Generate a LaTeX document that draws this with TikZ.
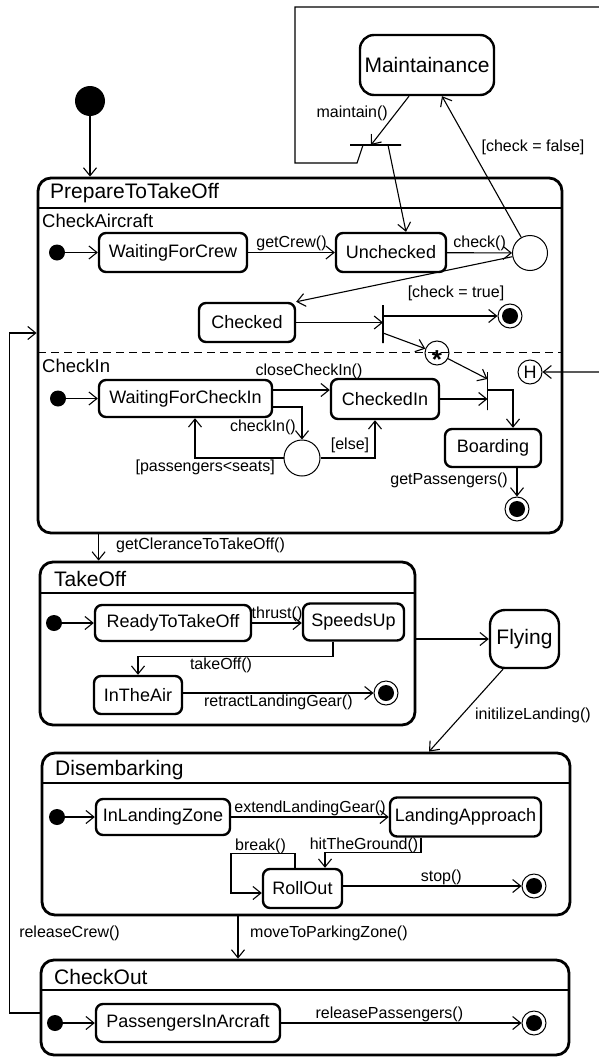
\documentclass[tikz,border=0pt]{standalone}
\usepackage{fontspec}
\setmainfont{Liberation Sans}
\usetikzlibrary{arrows.meta}
\newcommand{\statefont}{\fontsize{18}{21}\selectfont}
\newcommand{\lblfont}{\fontsize{16}{19}\selectfont}
\newcommand{\titlefont}{\fontsize{21}{25}\selectfont}
\newcommand{\regionfont}{\fontsize{18.5}{22}\selectfont}

\begin{document}
\begin{tikzpicture}[x=1pt, y=-1pt,
    stbox/.style={draw, line width=2.4pt, rounded corners=7pt, inner sep=0pt, font=\statefont},
    superbox/.style={draw, line width=2.8pt, rounded corners=13pt, inner sep=0pt},
    startdot/.style={circle, fill, inner sep=0pt, minimum size=16pt},
    enddot/.style={circle, draw, line width=1pt, inner sep=0pt, minimum size=24pt,
        path picture={\fill (path picture bounding box.center) circle (8pt);}},
    choice/.style={circle, draw, line width=1pt, inner sep=0pt, minimum size=35pt},
    syncbar/.style={draw, line width=1.2pt, inner sep=0pt, minimum width=0pt, minimum height=38pt},
    tr/.style={line width=1.1pt, -{Straight Barb[length=8pt, width=13pt]}},
    lbl/.style={font=\lblfont, inner sep=1pt},
    title/.style={anchor=west, font=\titlefont, inner sep=0pt},
    sep/.style={line width=2.4pt}]
\useasboundingbox (0,0) rectangle (599,1057);

\node (init0) [circle, fill, minimum size=30pt, inner sep=0pt] at (90,101) {};
\node (maint) [stbox, rounded corners=14pt, minimum width=134pt, minimum height=60pt, font=\titlefont] at (427,65) {Maintainance};
\node (topbar) [syncbar, minimum width=51pt, minimum height=0pt] at (375.5,145) {};

\node (prep) [superbox, minimum width=524pt, minimum height=355pt] at (300,355.5) {};
\node (preptitle) [title] at (50,193) {PrepareToTakeOff};
\draw[sep] (38,208) -- (562,208);
\draw[line width=1pt, dash pattern=on 8pt off 5pt] (38,352) -- (562,352);
\node (checkac) [title, font=\regionfont] at (42,221) {CheckAircraft};
\node (checkin) [title, font=\regionfont] at (42,366) {CheckIn};

\node (ini1) [startdot] at (57,252.5) {};
\node (waitcrew) [stbox, minimum width=148pt, minimum height=39pt] at (173,252.5) {WaitingForCrew};
\node (unchecked) [stbox, minimum width=110pt, minimum height=39pt] at (391,252.5) {Unchecked};
\node (choice1) [choice] at (530,253) {};
\node (checked) [stbox, minimum width=96pt, minimum height=39pt] at (247,322.5) {Checked};
\node (fork1) [syncbar] at (383,324) {};
\node (final1) [enddot] at (510,316) {};
\node (star) [circle, draw, line width=1pt, inner sep=0pt, minimum size=24pt] at (437,353)
    {\smash{\raisebox{-15pt}{\fontsize{26}{26}\selectfont\bfseries *}}};

\node (ini2) [startdot] at (58,398.5) {};
\node (waitci) [stbox, minimum width=173pt, minimum height=37pt] at (185.5,398.5) {WaitingForCheckIn};
\node (checkedin) [stbox, minimum width=108pt, minimum height=40pt] at (385,399) {CheckedIn};
\node (join1) [syncbar] at (487.5,391) {};
\node (hist) [circle, draw, line width=1pt, inner sep=0pt, minimum size=24pt, font=\statefont] at (530,372) {H};
\node (boarding) [stbox, minimum width=96pt, minimum height=38pt] at (493,448) {Boarding};
\node (final2) [enddot] at (517,509) {};
\node (choice2) [choice, minimum size=36pt] at (302,458) {};

\draw[tr] (init0) -- (init0 |- prep.north);
\draw[tr] ([xshift=-18pt]maint.south) -- ([xshift=-4.5pt]topbar.center);
\node (lblmaint) [lbl, anchor=east] at (389,113) {maintain()};
\draw[tr] ([xshift=12.5pt]topbar.center) -- ([xshift=15pt]unchecked.north);
\draw[tr] ([xshift=-12.5pt]topbar.center) -- ++(-6,18) -- (295,163) |- (606,7) |- (hist);
\draw[tr] (choice1) -- ([xshift=15pt]maint.south);
\node (lblfalse) [lbl] at (533,147) {[check = false]};

\draw[tr] (ini1) -- (waitcrew);
\draw[tr] (waitcrew) -- (unchecked) node[lbl, midway, above] (lblcrew) {getCrew()};
\draw[tr] (unchecked) -- (choice1) node[lbl, midway, above] (lblcheck) {check()};
\draw[tr] (choice1) -- (checked.north east);
\draw[tr] (checked) -- (checked -| fork1);
\draw[tr] (fork1 |- final1) -- (final1);
\node (lbltrue) [lbl] at (456,293) {[check = true]};
\draw[tr] ([yshift=-9pt]fork1.center) -- (star);
\draw[tr] (star) -- ([yshift=12pt]join1.center);

\draw[tr] (ini2) -- (waitci);
\draw[tr] ([yshift=8.5pt]waitci.east) -- ([yshift=8.5pt]waitci.east -| checkedin.west);
\node (lblclose) [lbl] at (309,371) {closeCheckIn()};
\draw[tr] (checkedin) -- (checkedin -| join1);
\draw[tr] ([yshift=1pt]join1.center) -| ([xshift=20pt]boarding.north);
\draw[tr] (final2 |- boarding.south) -- (final2);
\node (lblpass) [lbl, anchor=east] at (509,480) {getPassengers()};
\draw[tr] ([yshift=-8.5pt]waitci.east) -| (choice2);
\node (lblcheckin) [lbl, anchor=east] at (297,427) {checkIn()};
\draw[tr] (choice2) -| ([xshift=9.5pt]waitci.south);
\node (lblseats) [lbl, anchor=east] at (276,467) {[passengers<seats]};
\draw[tr] (choice2) -| ([xshift=-10pt]checkedin.south);
\node (lblelse) [lbl] at (350,445) {[else]};

\node (takeoff) [superbox, minimum width=375pt, minimum height=163pt] at (227.5,643.5) {};
\draw[tr] ([xshift=60pt]takeoff.north west |- prep.south) -- ([xshift=60pt]takeoff.north west);
\node (lblclear) [lbl, anchor=west] at (115,545) {getCleranceToTakeOff()};
\node (taketitle) [title] at (54,579) {TakeOff};
\draw[sep] (40,593) -- (415,593);
\node (ini3) [startdot] at (54,623) {};
\node (ready) [stbox, minimum width=156pt, minimum height=36pt] at (173,623) {ReadyToTakeOff};
\node (speeds) [stbox, minimum width=101pt, minimum height=37pt] at (353.5,622) {SpeedsUp};
\node (inair) [stbox, minimum width=88pt, minimum height=38pt] at (138,695) {InTheAir};
\node (final3) [enddot] at (386,693) {};
\node (flying) [stbox, rounded corners=15pt, minimum width=69pt, minimum height=58pt, font=\titlefont] at (524.5,639) {Flying};

\draw[tr] (ini3) -- (ready);
\draw[tr] (ready) -- (ready -| speeds.west) node[lbl, midway, above] (lblthrust) {thrust()};
\draw[tr] ([xshift=-20.5pt]speeds.south) -- ++(0,15) -| (inair);
\node (lbltake) [lbl] at (221,665) {takeOff()};
\draw[tr] (inair.east |- final3) -- (final3) node[lbl, midway, below] (lblretract) {retractLandingGear()};
\draw[tr] (takeoff.east |- flying) -- (flying);

\node (disemb) [superbox, minimum width=528pt, minimum height=162pt] at (306,834) {};
\draw[tr] ([xshift=-21.5pt]flying.south) -- ([xshift=123pt]disemb.north);
\node (lblland) [lbl] at (533,715) {initilizeLanding()};
\node (distitle) [title] at (55,770) {Disembarking};
\draw[sep] (42,783) -- (570,783);
\node (ini4) [startdot] at (57,817) {};
\node (landzone) [stbox, minimum width=134pt, minimum height=36pt] at (163,817) {InLandingZone};
\node (approach) [stbox, minimum width=151pt, minimum height=39pt] at (465.5,817) {LandingApproach};
\node (rollout) [stbox, minimum width=79pt, minimum height=39pt] at (302.5,888.5) {RollOut};
\node (final4) [enddot] at (534,886) {};

\draw[tr] (ini4) -- (landzone);
\draw[tr] (landzone) -- (approach) node[lbl, midway, above] (lblextend) {extendLandingGear()};
\draw[tr] ([xshift=-44.5pt]approach.south) -- ++(0,15) -| ([xshift=22.5pt]rollout.north);
\node (lblhit) [lbl] at (364,845) {hitTheGround()};
\draw[tr] ([xshift=-7.5pt]rollout.north) -- ++(0,-14) -- ++(-64,0) |- ([yshift=-4.5pt]rollout.west);
\node (lblbreak) [lbl] at (260.5,846) {break()};
\draw[tr] (rollout.east |- final4) -- (final4) node[lbl, pos=0.55, above] (lblstop) {stop()};

\node (checkout) [superbox, minimum width=528pt, minimum height=95pt] at (305,1007.5) {};
\draw[tr] ([xshift=-68pt]disemb.south) -- ([xshift=-68pt]disemb.south |- checkout.north);
\node (lblpark) [lbl, anchor=west] at (249,933) {moveToParkingZone()};
\node (cotitle) [title] at (54,977) {CheckOut};
\draw[sep] (41,990) -- (569,990);
\node (ini5) [startdot] at (55,1023) {};
\node (passengers) [stbox, minimum width=184pt, minimum height=38pt] at (188,1023) {PassengersInArcraft};
\node (final5) [enddot] at (534,1023) {};
\draw[tr] (ini5) -- (passengers);
\draw[tr] (passengers) -- (final5) node[lbl, pos=0.45, above] (lblrelp) {releasePassengers()};
\draw[tr] ([yshift=-5.5pt]checkout.west) -- ++(-30,0) |- ([yshift=22.5pt]prep.west);
\node (lblrelc) [lbl] at (69.5,933) {releaseCrew()};
\end{tikzpicture}
\end{document}
